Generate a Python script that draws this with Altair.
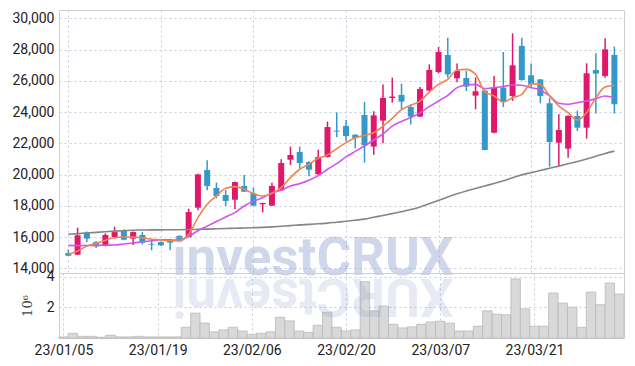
import altair as alt
import pandas as pd

dates = ["23/01/05","23/01/06","23/01/09","23/01/10","23/01/11","23/01/12","23/01/13","23/01/16","23/01/17","23/01/18",
         "23/01/19","23/01/20","23/01/25","23/01/26","23/01/27","23/01/30","23/01/31","23/02/01","23/02/02","23/02/03",
         "23/02/06","23/02/07","23/02/08","23/02/09","23/02/10","23/02/13","23/02/14","23/02/15","23/02/16","23/02/17",
         "23/02/20","23/02/21","23/02/22","23/02/23","23/02/24","23/02/27","23/02/28","23/03/02","23/03/03","23/03/06",
         "23/03/07","23/03/08","23/03/09","23/03/10","23/03/13","23/03/14","23/03/15","23/03/16","23/03/17","23/03/20",
         "23/03/21","23/03/22","23/03/23","23/03/24","23/03/27","23/03/28","23/03/29","23/03/30","23/03/31","23/04/03"]

open_ = [14980,14870,16300,15680,15430,16000,16410,15900,16130,15560,
         15680,15750,16070,16000,17880,20290,19140,18690,18390,19270,
         18800,18100,18010,18990,20950,21440,20800,20020,21120,22810,
         23110,22550,23810,21790,23450,24900,25090,24320,23710,25370,
         26560,27650,26160,26180,25050,25370,22680,25560,25030,28230,
         26350,26090,24560,22040,21660,23750,23000,26690,26310,27650]
high = [15210,16600,16350,15750,16240,16660,16490,16350,16320,15750,
        15720,15780,16100,17820,20050,20910,19480,19010,19560,19970,
        19160,18200,19480,20980,21790,21790,20850,21590,23390,23980,
        23490,22580,24640,24050,25770,26200,25820,24500,25600,27050,
        28160,28760,27100,26630,26220,25400,26310,27840,29040,28760,
        27100,26100,24900,23860,23800,24090,27120,27760,28720,28190]
low = [14790,14850,15680,15300,15400,15970,15800,15490,15530,15150,
       15450,15150,15750,15980,17710,18990,18480,17990,17780,18880,
       17990,17580,17990,18950,20610,20400,19890,19990,21100,22400,
       22150,21680,20760,21270,22000,24600,24180,23210,23680,25340,
       26480,26200,25900,25350,24180,21550,22640,24320,24710,26000,
       25560,24560,20500,20550,21080,22790,22300,23900,26200,23900]
close = [14810,16110,15900,15410,16130,16320,15830,16320,15640,15510,
         15470,15640,15790,17600,20010,19270,18630,18310,19520,18900,
         18010,18180,19270,20740,21250,20740,20310,21120,23040,22750,
         22470,22340,21870,23790,24900,24990,24670,23710,25480,26690,
         27840,26410,26630,25630,25330,21570,25560,24640,26990,26050,
         25770,25030,22080,22850,23750,23000,26480,26460,28010,24500]
ma5 = [14900,15110,15420,15600,15800,15960,16000,16000,15950,15860,
       15820,15760,15760,16180,17240,18100,18630,19120,19230,19060,
       18780,18630,18780,19160,19800,20340,20660,21040,21250,21660,
       22040,22350,22500,22680,23100,23600,24150,24430,24700,25280,
       25770,26090,26690,26730,26410,25300,25030,24640,24920,25130,
       25820,25770,25030,24390,23960,23490,23960,24920,25600,25710]
ma20 = [15470,15450,15460,15470,15480,15490,15560,15620,15700,15760,
        15830,15820,15810,16050,16400,16700,16990,17280,17560,17990,
        18300,18520,18840,18990,19270,19420,19630,19930,20340,20700,
        21130,21480,21830,22210,22600,23100,23400,23650,23950,24350,
        24710,25070,25560,25730,25770,25500,25560,25630,25730,25710,
        25560,25410,25030,24560,24500,24600,24710,24860,25030,24920]
ma60 = [16180,16220,16260,16300,16340,16380,16410,16440,16450,16460,
        16460,16470,16470,16480,16500,16510,16530,16550,16560,16580,
        16600,16620,16650,16690,16730,16780,16810,16850,16890,16950,
        17010,17080,17150,17270,17380,17500,17620,17760,17930,18130,
        18350,18570,18770,18950,19110,19270,19430,19600,19800,19980,
        20120,20260,20400,20540,20690,20840,20990,21170,21350,21500]
volume_m = [0.07,0.31,0.11,0.11,0.05,0.18,0.07,0.07,0.11,0.07,
            0.07,0.07,0.07,0.70,1.63,0.97,0.40,0.53,0.70,0.46,
            0.24,0.31,0.40,1.36,1.12,0.46,0.37,0.84,1.69,0.70,
            0.46,0.53,3.69,1.78,2.09,0.90,0.66,0.73,0.90,1.05,
            1.10,0.97,0.46,0.46,0.77,1.78,1.56,1.52,3.87,1.91,
            0.77,0.77,2.95,2.29,2.02,0.70,3.01,2.18,3.60,2.88]
price_ticks = [14000,16000,18000,20000,22000,24000,26000,28000,30000]
vol_ticks = [2, 4]
label_idx = [0,10,20,30,40,50]
watermark = "investCRUX"

n = len(dates)
df = pd.DataFrame({
    "i": list(range(n)), "date": dates, "open": open_, "high": high, "low": low,
    "close": close, "ma5": ma5, "ma20": ma20, "ma60": ma60,
    "vol": [v * 1e6 for v in volume_m],
})
df["dir"] = ["up" if c >= o else "down" for o, c in zip(open_, close)]
df["x0"] = df["i"] - 0.5
df["x1"] = df["i"] + 0.5

UP = "#E0186C"
DOWN = "#3498C8"
FONT = "Roboto"
W = 565
xdom = [-0.47, 59.5]
label_expr = "[" + ",".join("'%s'" % d for d in dates) + "][datum.value]"

x_price = alt.X("i:Q", scale=alt.Scale(domain=xdom, nice=False, zero=False),
                axis=alt.Axis(values=label_idx, labels=False, ticks=False, domain=False, title=None, grid=True))
yscale = alt.Scale(domain=[13700, 30530], nice=False, zero=False)
yaxis = alt.Axis(values=price_ticks, format=",d", title=None, ticks=False, domain=False,
                 labelPadding=5, grid=True, labelOverlap=False, labelSeparation=0)


def py(field):
    return alt.Y(field, type="quantitative", scale=yscale, axis=yaxis)


color = alt.Color("dir:N", scale=alt.Scale(domain=["up", "down"], range=[UP, DOWN]), legend=None)

base = alt.Chart(df)
wicks = base.mark_rule(strokeWidth=1.5).encode(x=x_price, y=py("low"), y2="high:Q", color=color)
bodies = base.mark_bar(size=6).encode(x=x_price, y=py("open"), y2="close:Q", color=color)
l60 = base.mark_line(color="#858585", strokeWidth=1.6, interpolate="monotone").encode(x=x_price, y=py("ma60"))
l20 = base.mark_line(color="#CF55EC", strokeWidth=1.6, interpolate="monotone").encode(x=x_price, y=py("ma20"))
l5 = base.mark_line(color="#EF8450", strokeWidth=1.6, interpolate="monotone").encode(x=x_price, y=py("ma5"))

wm_df = pd.DataFrame({"t": [watermark], "r": [watermark[::-1]]})
wm = alt.Chart(wm_df).mark_text(font=FONT, fontWeight="bold", fontSize=53, fill="#8C9CCB",
                                opacity=0.4, align="center", baseline="alphabetic").encode(
    x=alt.value(254), y=alt.value(265), text="t:N")

price = alt.layer(wicks, bodies, l60, l20, l5, wm).properties(width=W, height=263)

x_vol = alt.X("x0:Q", scale=alt.Scale(domain=xdom, nice=False, zero=False),
              axis=alt.Axis(values=label_idx, labelExpr=label_expr, ticks=False, domain=False, title=None,
                            grid=True, labelPadding=5, labelOverlap=False))
vbars = base.mark_rect(fill="#D9D9D9", stroke="#B9B9B9", strokeWidth=0.8).encode(
    x=x_vol, x2="x1:Q",
    y=alt.Y("vol:Q", scale=alt.Scale(domain=[0, 4.26e6], nice=False),
            axis=alt.Axis(values=[v * 1e6 for v in vol_ticks], labelExpr="datum.value/1e6", title="10⁶",
                          ticks=False, domain=False, labelPadding=5, titleFont="DejaVu Serif",
                          titleFontWeight="normal", titleFontSize=13, titleColor="#444", titlePadding=12,
                          grid=True, labelOverlap=False, labelSeparation=0)),
    y2=alt.Y2(datum=0))
refl = alt.Chart(wm_df).mark_text(font=FONT, fontWeight="bold", fontSize=53, fill="#8C9CCB",
                                  opacity=0.2, align="center", baseline="alphabetic", angle=180).encode(
    x=alt.value(254), y=alt.value(6), text="r:N")
vol = alt.layer(vbars, refl).properties(width=W, height=65)

chart = alt.vconcat(price, vol, spacing=0, bounds="flush").properties(
    padding={"left": 3, "top": 1, "right": 0, "bottom": 0}
).configure_view(stroke="#CFCFCF").configure_axis(
    gridColor="#C6CCDE", gridDash=[2, 3], gridWidth=1, labelFont=FONT, labelFontSize=14,
    labelColor="#222", labelOverlap=False
)

chart.save("out.html", embed_options={"renderer": "svg", "actions": False})
